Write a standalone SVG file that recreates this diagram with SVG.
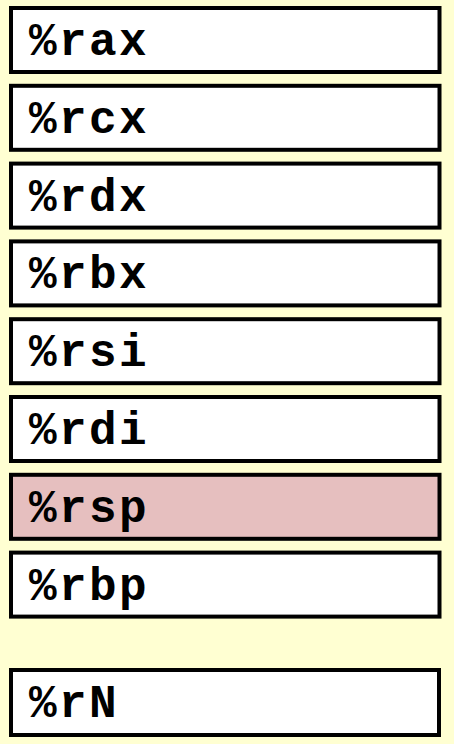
<svg xmlns="http://www.w3.org/2000/svg" width="454" height="744" viewBox="0 0 454 744">
<style>
.box{fill:#ffffff;stroke:#000000;stroke-width:4}
.hl{fill:#e6bfbf}
.lbl{font-family:"Liberation Mono","DejaVu Sans Mono",monospace;font-weight:bold;font-size:46px;letter-spacing:2.4px;fill:#000000}
</style>
<rect x="0" y="0" width="454" height="744" fill="#ffffd2"/>
<g id="rax"><rect class="box" x="11" y="8" width="428.5" height="64"/><text class="lbl" x="29" y="55">%rax</text></g>
<g id="rcx"><rect class="box" x="11" y="85.8" width="428.5" height="64"/><text class="lbl" x="29" y="132.8">%rcx</text></g>
<g id="rdx"><rect class="box" x="11" y="163.6" width="428.5" height="64"/><text class="lbl" x="29" y="210.6">%rdx</text></g>
<g id="rbx"><rect class="box" x="11" y="241.4" width="428.5" height="64"/><text class="lbl" x="29" y="288.4">%rbx</text></g>
<g id="rsi"><rect class="box" x="11" y="319.2" width="428.5" height="64"/><text class="lbl" x="29" y="366.2">%rsi</text></g>
<g id="rdi"><rect class="box" x="11" y="397" width="428.5" height="64"/><text class="lbl" x="29" y="444">%rdi</text></g>
<g id="rsp"><rect class="box hl" x="11" y="474.8" width="428.5" height="64"/><text class="lbl" x="29" y="521.8">%rsp</text></g>
<g id="rbp"><rect class="box" x="11" y="552.6" width="428.5" height="64"/><text class="lbl" x="29" y="599.6">%rbp</text></g>
<g id="rN"><rect class="box" x="11" y="670" width="428" height="65"/><text class="lbl" x="29" y="717">%rN</text></g>
<g id="connectors"></g>
</svg>
